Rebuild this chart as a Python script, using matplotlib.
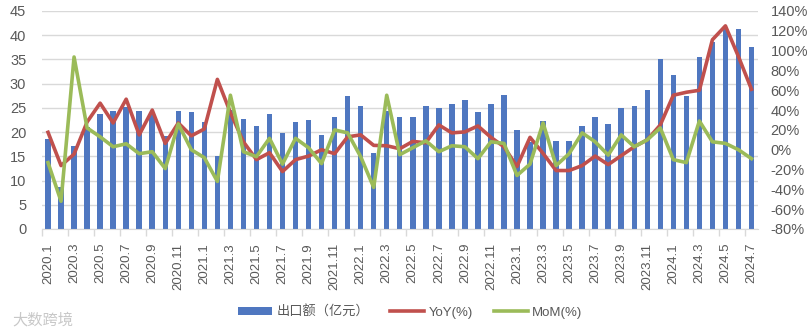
import matplotlib
matplotlib.use("Agg")
import matplotlib.pyplot as plt
from matplotlib.patches import Patch
from matplotlib.lines import Line2D
import numpy as np

plt.rcParams['font.family'] = ['Liberation Sans', 'Noto Sans CJK SC', 'DejaVu Sans']

years = [2020, 2021, 2022, 2023, 2024]
months = [f"{y}.{m}" for y in years for m in range(1, 13)][:55]

exports = [18.5, 8.7, 17.2, 21.0, 23.7, 24.3, 25.2, 24.4, 23.7, 19.3,
           24.3, 24.2, 22.1, 15.0, 24.5, 22.8, 21.3, 23.8, 19.9, 22.1,
           22.6, 19.4, 23.2, 27.4, 25.3, 15.6, 24.3, 23.1, 23.1, 25.4,
           24.9, 25.7, 26.6, 24.2, 25.9, 27.7, 20.4, 18.0, 22.3, 18.2,
           18.2, 21.3, 23.2, 21.7, 24.9, 25.4, 28.6, 35.0, 31.7, 27.5,
           35.6, 38.5, 41.5, 41.2, 37.6]
yoy = [17.6, -16, -4.4, 28, 47, 27, 51, 15, 40, 6.4,
       27, 14, 21, 71, 37.5, 8, -10, -3, -22, -10,
       -6.4, 0, -4, 13, 15, 4.4, 4, 1, 8.4, 7,
       25, 17, 18, 24, 12.5, 3, -17, 12.5, -3.7, -21,
       -21, -16, -6.4, -15, -6, 3, 10, 25, 55, 58,
       60, 111, 125, 94, 61]
mom = [-13, -52, 93.6, 22, 13, 3, 6, -4, -2, -19,
       26, 0, -8, -32, 55, -2, -7, 11.5, -14.5, 11.5,
       2, -14, 20, 17, -7, -38, 55, -5, 2, 9,
       -2, 4, 3, -9, 8, 6.4, -26, -14.5, 27, -16,
       -4, 17, 8, -5.4, 15, 3, 10, 22, -10, -13,
       29, 8, 6.4, 0, -9]

legend_labels = ["出口额（亿元）", "YoY(%)", "MoM(%)"]

BLUE = "#4F77C0"
RED = "#C0504D"
GREEN = "#9BBB59"
TXT = "#595959"
GRID = "#D9D9D9"

fig = plt.figure(figsize=(8.08, 3.35), dpi=100)
ax = fig.add_axes([41.5/808, 1-229/335, (758-41.5)/808, (229-11)/335])
x = np.arange(len(months))
ax.bar(x, exports, width=0.42, color=BLUE, zorder=2)
ax.set_xlim(-0.5, len(months)-0.5)
ax.set_ylim(0, 45)
ax.set_yticks(np.arange(0, 46, 5))
ax.yaxis.grid(True, color=GRID, linewidth=1)
ax.set_axisbelow(True)
for s in ['top', 'right', 'left']:
    ax.spines[s].set_visible(False)
ax.spines['bottom'].set_color(GRID)
ax.tick_params(axis='y', length=0, pad=11, labelsize=10.5, labelcolor=TXT)
ax.set_xticks(x[::2])
ax.set_xticklabels(months[::2], rotation=90, fontsize=9.5, color=TXT)
ax.tick_params(axis='x', length=0, pad=10)
ax.set_xticks(np.arange(-0.5, len(months), 2), minor=True)
ax.tick_params(axis='x', which='minor', length=5, color=GRID, width=1)

ax2 = ax.twinx()
ax2.plot(x, yoy, color=RED, linewidth=2.6, zorder=3)
ax2.plot(x, mom, color=GREEN, linewidth=2.6, zorder=4)
ax2.set_ylim(-80, 140)
ax2.set_yticks(np.arange(-80, 141, 20))
ax2.set_yticklabels([f"{v}%" for v in range(-80, 141, 20)])
ax2.tick_params(axis='y', length=0, pad=9, labelsize=10.5, labelcolor=TXT)
for s in ax2.spines.values():
    s.set_visible(False)

handles = [Patch(facecolor=BLUE, edgecolor='none'),
           Line2D([0], [0], color=RED, linewidth=2.6),
           Line2D([0], [0], color=GREEN, linewidth=2.6)]
leg = fig.legend(handles, legend_labels, loc='center', ncol=3,
                 bbox_to_anchor=(410/808, 1-312/335), frameon=False,
                 fontsize=9.5, handlelength=2.6, handleheight=0.6,
                 columnspacing=1.6, handletextpad=0.3)
for t in leg.get_texts():
    t.set_color(TXT)

fig.text(12/808, 1-320/335, "大数跨境", fontsize=11, color="#C8C8C8",
         family=['Noto Sans CJK SC', 'DejaVu Sans'], va='center')

fig.savefig("out.png", dpi=100)
